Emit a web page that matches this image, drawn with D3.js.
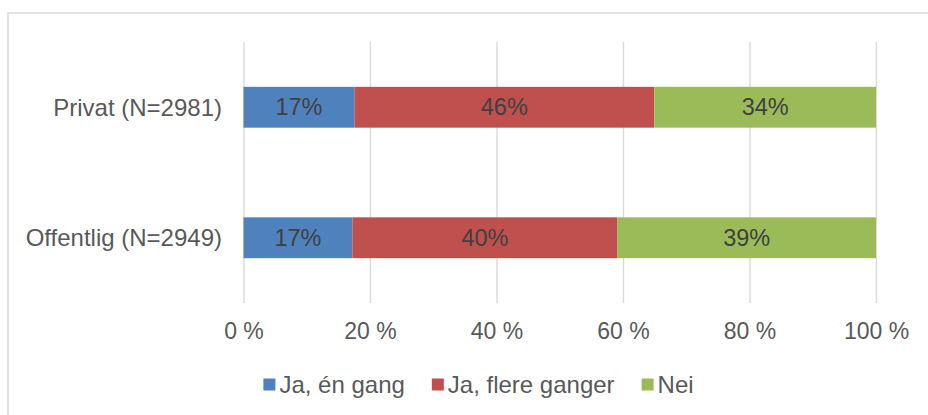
<!DOCTYPE html>
<html>
<head>
<meta charset="utf-8">
<script src="https://cdn.jsdelivr.net/npm/d3@7"></script>
<style>
  html, body { margin: 0; padding: 0; background: #fff; }
  svg { display: block; font-family: "Liberation Sans", Arial, sans-serif; }
</style>
</head>
<body>
<svg id="chart" width="928" height="415"></svg>
<script>
// ---- data ----
const categories = ["Privat (N=2981)", "Offentlig (N=2949)"];
const seriesNames = ["Ja, én gang", "Ja, flere ganger", "Nei"];
const janGang = [17, 16.6];
const jaFlere = [46, 40.4];
const nei = [34, 39.4];
const tickValues = [0, 0.2, 0.4, 0.6, 0.8, 1.0];
const tickLabels = ["0 %", "20 %", "40 %", "60 %", "80 %", "100 %"];
const colors = ["#4F81BD", "#C0504D", "#9BBB59"];

const rows = categories.map((c, i) => ({
  cat: c,
  [seriesNames[0]]: janGang[i],
  [seriesNames[1]]: jaFlere[i],
  [seriesNames[2]]: nei[i]
}));

const svg = d3.select("#chart");

// chart frame
svg.append("rect")
  .attr("x", 8).attr("y", 13).attr("width", 1000).attr("height", 500)
  .attr("fill", "none").attr("stroke", "#d9d9d9").attr("stroke-width", 1.5);

const x = d3.scaleLinear().domain([0, 1]).range([243.5, 876]);
const y = d3.scaleBand().domain(categories).range([42, 303])
  .paddingInner(0.687).paddingOuter(0.3435);

// grid + axis
const axis = d3.axisBottom(x)
  .tickValues(tickValues)
  .tickFormat((d, i) => tickLabels[i])
  .tickSizeInner(-(303 - 42))
  .tickSizeOuter(0)
  .tickPadding(20);

const gx = svg.append("g").attr("transform", "translate(0,303)").call(axis);
gx.select(".domain").remove();
gx.selectAll(".tick line").attr("stroke", "#d9d9d9").attr("stroke-width", 1.4);
gx.selectAll(".tick text")
  .attr("fill", "#595959")
  .style("font-size", "23px")
  .style("font-family", "'Liberation Sans', Arial, sans-serif");

// stacked bars
const stack = d3.stack().keys(seriesNames).offset(d3.stackOffsetExpand);
const stacked = stack(rows);

const layers = svg.append("g").selectAll("g")
  .data(stacked).join("g")
  .attr("fill", (d, i) => colors[i]);

layers.selectAll("rect")
  .data(d => d).join("rect")
  .attr("x", d => x(d[0]))
  .attr("width", d => x(d[1]) - x(d[0]))
  .attr("y", d => y(d.data.cat))
  .attr("height", y.bandwidth());

// data labels
layers.each(function(layer) {
  d3.select(this).selectAll("text")
    .data(layer).join("text")
    .attr("x", d => (x(d[0]) + x(d[1])) / 2)
    .attr("y", d => y(d.data.cat) + y.bandwidth() / 2)
    .attr("dy", "0.35em")
    .attr("text-anchor", "middle")
    .attr("fill", "#404040")
    .style("font-size", "23.5px")
    .text(d => d3.format(".0f")(d.data[layer.key]) + "%");
});

// category labels
svg.append("g").selectAll("text")
  .data(categories).join("text")
  .attr("x", 222)
  .attr("y", d => y(d) + y.bandwidth() / 2)
  .attr("dy", "0.36em")
  .attr("text-anchor", "end")
  .attr("fill", "#595959")
  .style("font-size", "24px")
  .text(d => d);

// legend
const legend = svg.append("g");
const items = legend.selectAll("g").data(seriesNames).join("g");
items.append("rect")
  .attr("width", 12).attr("height", 12)
  .attr("y", 378.5)
  .attr("fill", (d, i) => colors[i]);
items.append("text")
  .attr("x", 16)
  .attr("y", 393)
  .attr("fill", "#595959")
  .style("font-size", "24px")
  .text(d => d);

const gap = 27;
let widths = [];
items.each(function() {
  widths.push(16 + d3.select(this).select("text").node().getComputedTextLength());
});
const total = d3.sum(widths) + gap * (widths.length - 1);
let cx = 478.5 - total / 2;
items.each(function(d, i) {
  d3.select(this).attr("transform", `translate(${cx},0)`);
  cx += widths[i] + gap;
});
</script>
</body>
</html>
